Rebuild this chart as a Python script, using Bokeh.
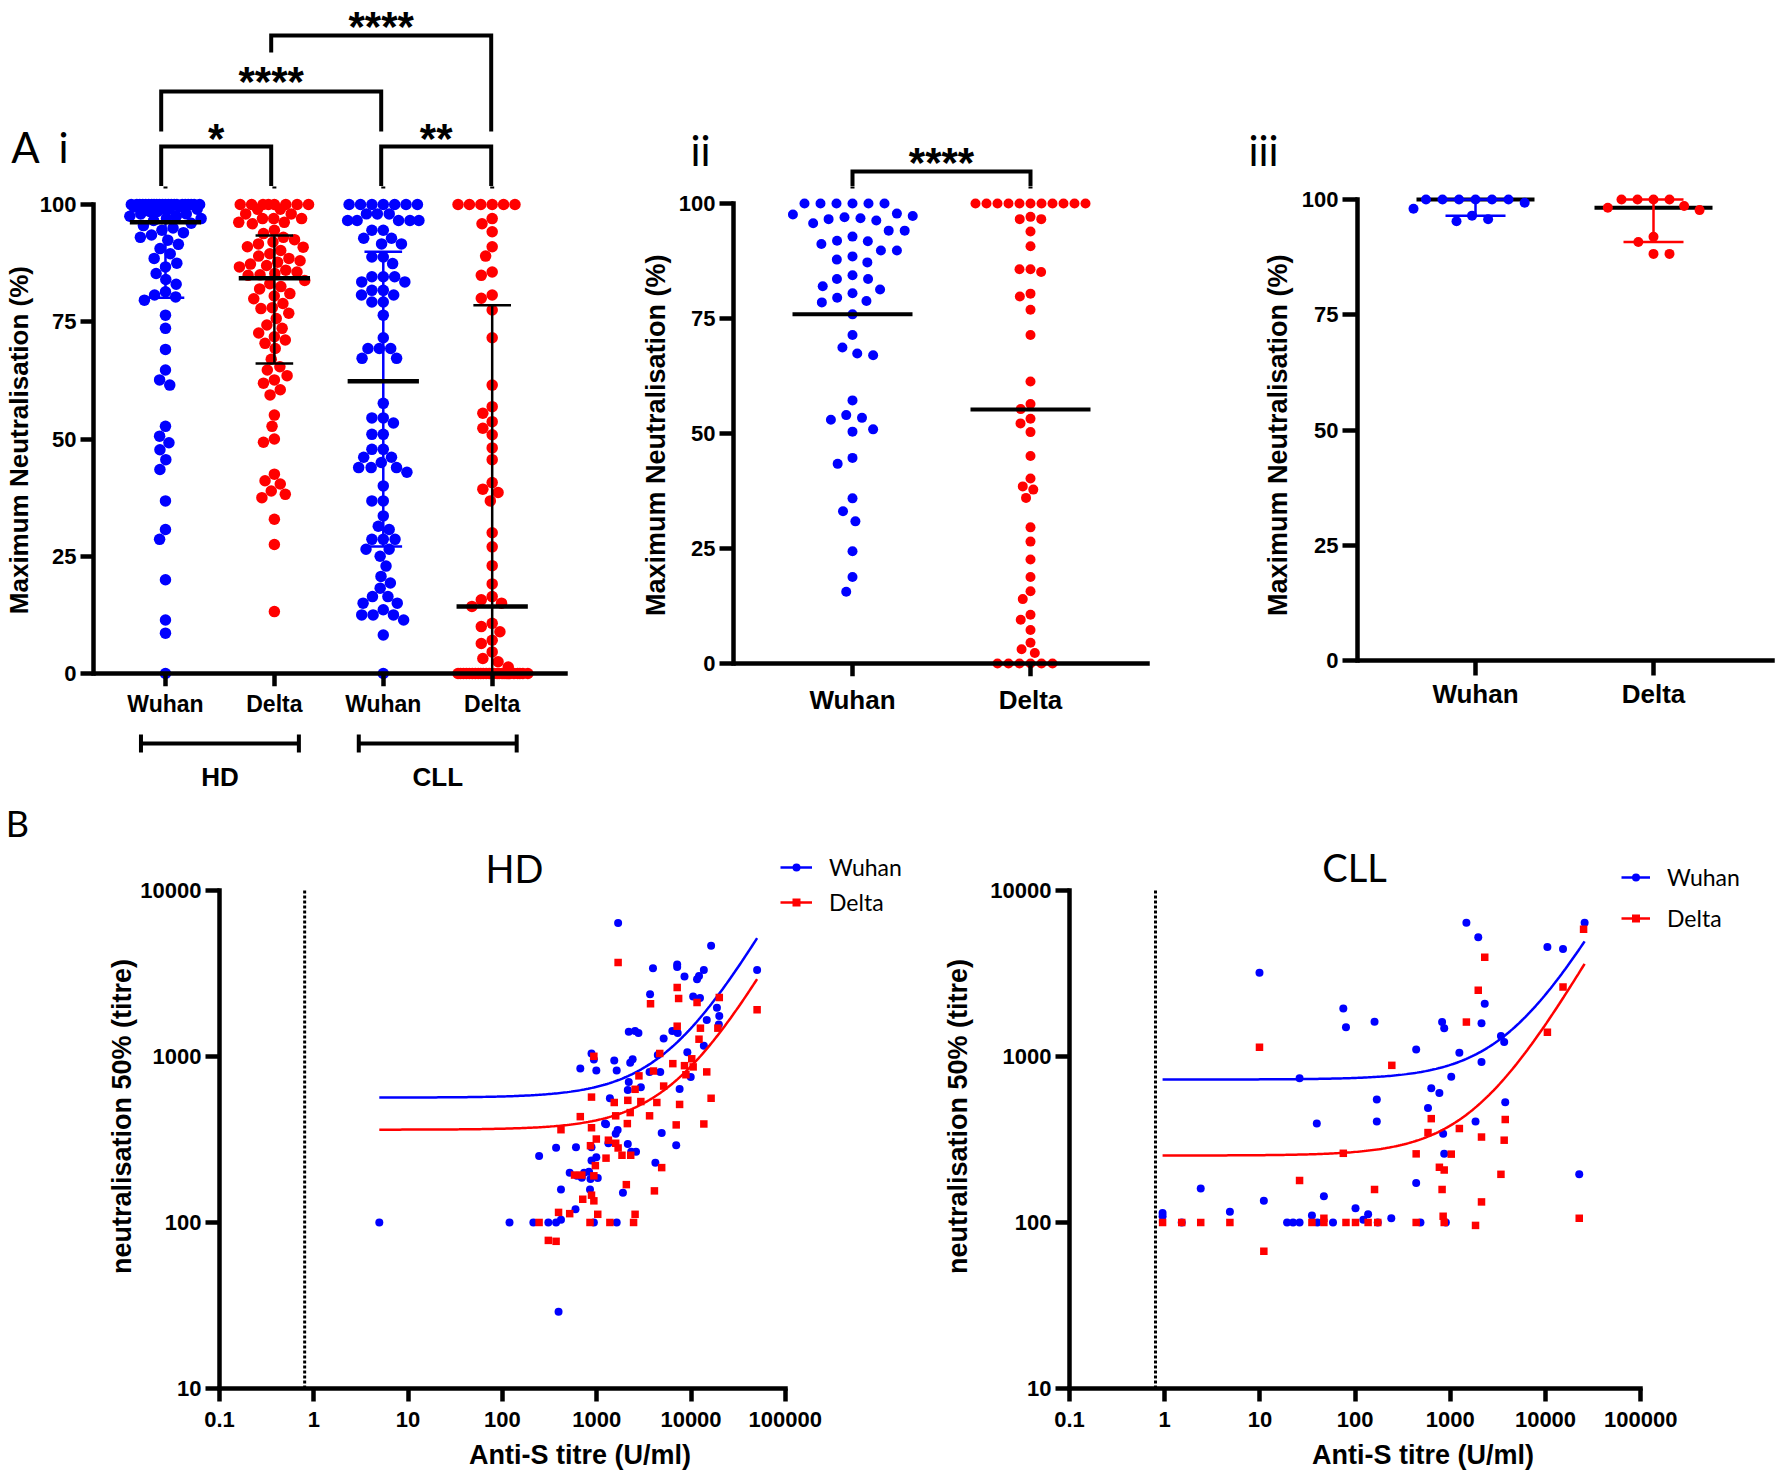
import math
import numpy as np
from bokeh.plotting import figure
from bokeh.layouts import row, column
from bokeh.models import Range1d, FixedTicker, Legend, LegendItem, PrintfTickFormatter, LinearAxis
from bokeh.core.properties import value
from bokeh.embed import file_html
from bokeh.resources import INLINE

# ======================= DATA =======================
ai_categories = ["Wuhan", "Delta", "Wuhan", "Delta"]
ai_groups = ["HD", "CLL"]
ai_group_members = [(0, 1), (2, 3)]
ai_hd_wuhan = [100, 100, 100, 100, 100, 100, 100, 100, 100, 100, 100, 100, 100, 100, 100, 100, 100, 100, 100, 100, 100, 100,
               99.5, 99.5, 99.0, 99.0, 99.0, 98.5, 98.5, 98.0, 98.0, 97.5, 97.5, 97.0, 97.0, 96.6,
               96.0, 95.5, 95.0, 94.5, 94.0, 93.5, 93.0, 92.4, 91.5, 90.6, 89.5, 88.5, 87.5, 86.7, 85.3, 84.0, 83.0, 81.4, 80.7, 80.3,
               79.6, 76.4, 73.6, 69.1, 64.7, 62.6, 61.5, 52.7, 50.6, 49.2, 47.7, 45.6, 43.5, 36.8, 30.7, 28.6, 20.0, 11.4, 8.6, 0.0]
ai_hd_delta = [100, 100, 100, 100, 100, 100, 100, 100,
               99, 99, 98, 98, 97, 97, 97, 96.2, 96.2, 95.9, 94.5, 93.8,
               93, 92.5, 92, 91.6, 91, 90.9, 90.2, 89.5, 89, 88.5, 88, 87.7, 87.3, 87, 86.7, 86, 85.6, 85.3, 85, 84.9,
               83.8, 83.1, 82.5, 82, 81, 80.5, 79.9, 78.9, 78, 77.8, 76.8, 75.7, 74.3, 73.6, 72.6, 71.8, 71.1, 70.4, 69.3, 67,
               65.4, 64.7, 63.5, 62.6, 61.9, 60.5, 59.4, 55.1, 52.7, 50, 49.3, 42.5, 41.1, 40.4, 38.9, 38.2, 37.5, 32.9, 27.5, 13.2]
ai_cll_wuhan = [100, 100, 100, 100, 100, 100, 100, 98, 98, 98, 96.6, 96.6, 96.6, 96.6, 96.6, 94.5, 94.5, 92.8, 92.8, 91.6, 91.6,
                88.8, 88.8, 87.4, 84.6, 84.6, 84.6, 83.5, 83.5, 81.7, 81.7, 80.7, 80.7, 79.2, 79.2, 76.4, 71.6, 69.3, 69.3, 69.3, 67.2, 67.2,
                57.6, 54.5, 54.5, 53.4, 51, 51, 47.8, 47.8, 46.1, 46.1, 45, 43.9, 43.9, 43.9, 42.9, 40, 36.8, 36.8, 33.6, 31.4, 30.7, 28.6, 28.6, 28.6,
                26.5, 26.5, 25, 22.9, 20.7, 19.3, 18.2, 16.4, 16.4, 15, 15, 13.6, 12.5, 12.5, 12.5, 11.4, 8.2, 0]
ai_cll_delta = [100, 100, 100, 100, 100, 100, 97, 95.9, 94.2, 91, 89, 85.6, 84.9, 80.7, 80, 77.5, 71.6, 61.5, 56.9, 55.5, 53.7,
                52.3, 50.9, 48.1, 45.6, 40.7, 39.3, 38.6, 36.8, 30, 27, 23, 19.1, 16.4, 15.7, 15,
                14.3, 10.7, 10, 8.9, 7.1, 6.4, 4.6, 3.2, 2.5, 1.4,
                0, 0, 0, 0, 0, 0, 0, 0, 0, 0, 0, 0, 0, 0, 0, 0, 0, 0, 0, 0, 0, 0, 0, 0, 0, 0]
ai_median = [96.2, 84.3, 62.3, 14.3]
ai_q1 = [80.1, 66.1, 27.1, 0.0]
ai_q3 = [100.0, 93.4, 89.9, 78.5]
ai_pairs = [(0, 1), (2, 3), (0, 2), (1, 3)]
ai_significance = ["*", "**", "****", "****"]

ii_categories = ["Wuhan", "Delta"]
ii_wuhan = [100, 100, 100, 100, 100, 100, 96.6, 97.8, 97.3, 97.6, 97.0, 96.8, 96.3, 95.7, 94.1, 94.1, 92.8, 91.9, 91.8, 91.2,
            89.8, 89.8, 88.5, 87.8, 87.2, 84.4, 83.6, 83.6, 82.0, 81.3, 80.5, 79.5, 78.8, 78.5, 75.9, 71.4, 68.7, 67.4, 67.0,
            57.2, 54.0, 53.4, 53.0, 50.9, 50.4, 44.7, 43.4, 35.9, 33.1, 30.9, 24.4, 18.8, 15.6]
ii_delta = [100, 100, 100, 100, 100, 100, 100, 100, 100, 100, 100, 97.1, 96.6, 96.6, 93.9, 90.7, 85.7, 85.7, 85.1, 80.4, 79.8,
            76.9, 71.4, 61.3, 56.4, 55.3, 53.2, 52.2, 50.3, 45.1, 40.2, 38.5, 37.8, 36.0, 29.6, 26.5, 22.6, 18.8, 15.7, 14.0,
            10.6, 9.5, 7.3, 4.5, 3.1, 2.3, 0, 0, 0, 0, 0, 0]
ii_mean = [75.9, 55.2]
ii_significance = "****"

iii_categories = ["Wuhan", "Delta"]
iii_wuhan = [100, 100, 100, 100, 100, 100, 99.3, 98.0, 96.5, 95.7, 95.3]
iii_delta = [100, 100, 100, 100, 98.6, 98.2, 97.7, 91.9, 90.8, 88.2, 88.2]
iii_median = [100.0, 98.2]
iii_q1 = [96.5, 90.8]
iii_q3 = [100.0, 100.0]

pct_ticks = [0, 25, 50, 75, 100]

series_names = ["Wuhan", "Delta"]
hd_wuhan_x = [1687, 16340, 3952, 7138, 7138, 13680, 8529, 11590, 12160, 50230, 3680, 10540, 12450, 18830, 19950, 14690, 19730,
              2188, 2553, 2772, 6339, 7223, 5129, 13680, 4446, 9143, 881, 933, 670, 991, 1535, 1629, 2405, 2266, 3636, 4719,
              2188, 2938, 2137, 7570, 9935, 1380, 1225, 1256, 1667, 1590, 4888, 1331, 2137, 371, 603, 881, 6968, 245, 991, 881,
              2322, 2612, 4190, 517, 736, 829, 617, 695, 859, 1026, 418, 849, 1898, 596, 4.95, 119, 213, 307, 371, 418, 933, 1629, 394]
hd_wuhan_y = [6365, 4637, 3397, 3574, 3455, 3322, 3032, 2915, 3051, 3322, 2366, 2299, 2249, 1963, 1753, 1656, 1556,
              1407, 1423, 1383, 1423, 1383, 1284, 1161, 1019, 1060, 1042, 958, 845, 822, 946, 822, 963, 915, 807, 807,
              702, 652, 627, 637, 751, 560, 394, 390, 360, 342, 346, 300, 297, 282, 284, 284, 292, 251, 247, 236,
              267, 267, 229, 199, 199, 202, 191, 186, 183, 185, 158, 158, 151, 120, 100, 100, 100, 100, 100, 104, 100, 100, 29]
hd_delta_x = [1687, 7138, 7394, 3722, 11590, 19950, 12590, 7138, 12160, 19270, 4662, 10180, 6414, 933, 8529, 10540, 3999,
              14690, 8831, 2805, 2553, 5129, 881, 1535, 2137, 2938, 4342, 7570, 16340, 670, 1590, 3636, 2266, 418, 881, 2113,
              6968, 13680, 991, 1331, 859, 1590, 1687, 1256, 1854, 2294, 4888, 968, 582, 695, 933, 2062, 711, 881, 933, 4093,
              394, 517, 1026, 2553, 245, 849, 1380, 2461, 307, 371, 50230]
hd_delta_y = [3676, 2604, 2235, 2077, 2113, 2261, 1480, 1521, 1270, 1480, 1042, 968, 905, 1002, 880, 865, 817,
              807, 776, 764, 634, 663, 569, 528, 544, 535, 528, 514, 560, 434, 439, 439, 459, 362, 372, 394,
              387, 392, 318, 313, 290, 300, 281, 244, 254, 254, 214, 220, 193, 193, 191, 169, 138, 146, 135, 155,
              115, 113, 112, 112, 100, 100, 100, 100, 78, 77, 1908]
cll_wuhan_x = [1476, 1966, 25760, 10470, 15280, 9.9, 2300, 75.2, 160, 820, 80.2, 863, 2127, 3404, 3681, 438, 1245, 2127,
               26.1, 1023, 631, 768, 169, 3776, 583, 39.6, 169, 1841, 841, 863, 438, 22610, 2.39, 47.0, 11.0, 101, 0.95, 0.95,
               4.84, 35.2, 137, 122, 240, 1.51, 19.3, 22.3, 26.1, 40.2, 58.6, 173, 486, 898]
cll_wuhan_y = [6397, 5220, 6397, 4558, 4430, 3193, 2077, 1941, 1620, 1611, 1497, 1480, 1585, 1328, 1221, 1103, 1054, 926,
               738, 755, 644, 603, 550, 529, 489, 394, 405, 405, 342, 259, 173, 195, 160, 144, 135, 122, 114, 109,
               116, 110, 112, 104, 106, 100, 100, 100, 100, 100, 100, 100, 100, 100]
cll_delta_x = [25120, 2300, 1966, 15280, 1476, 10470, 9.9, 243, 631, 3776, 583, 1245, 2127, 3681, 75.2, 438, 1023, 768, 863,
               3404, 26.1, 160, 820, 2127, 47.0, 22610, 0.95, 1.51, 2.39, 4.84, 35.2, 47.0, 80.2, 101, 137, 173, 438, 841,
               863, 1841, 11.0]
cll_delta_y = [5845, 3958, 2503, 2618, 1611, 1399, 1135, 884, 422, 417, 348, 368, 327, 313, 261, 259, 258, 215, 207,
               195, 179, 158, 158, 133, 106, 106, 100, 100, 100, 100, 100, 100, 100, 100, 100, 100, 100, 109,
               100, 96, 67]
hd_fit_intercept = [565, 362]
hd_fit_slope = [0.0915, 0.051]
cll_fit_intercept = [726, 253]
cll_fit_slope = [0.1633, 0.1305]
assay_cutoff = 0.8
titre_x_ticks = [0.1, 1, 10, 100, 1000, 10000, 100000]
titre_y_ticks = [10, 100, 1000, 10000]

# ======================= STYLE / HELPERS =======================
S = 1.0
def P(v): return int(round(v * S))
def F(v): return f"{v * S:.1f}px"
def W(v): return v * S

BLUE, RED, BLACK = "#0000ff", "#ff0000", "#000000"
AXFONT, SOFT = "Liberation Sans", "Lato"


def swarm(vals, ppu, d, maxw):
    n = len(vals)
    order = sorted(range(n), key=lambda i: (-vals[i], i))
    placed, offs = [], [0.0] * n
    for i in order:
        y = vals[i] * ppu
        near = [(py, px) for (py, px) in placed if abs(py - y) < d]
        cands = [0.0]
        for py, px in near:
            dx = math.sqrt(max(d * d - (py - y) ** 2, 0.0))
            cands += [px - dx, px + dx]
        def ok(x):
            return all((x - px) ** 2 + (y - py) ** 2 >= d * d - 1e-6 for py, px in near)
        valid = [c for c in cands if abs(c) <= maxw + 1e-9 and ok(c)]
        if valid:
            x = min(valid, key=lambda c: (round(abs(c), 6), c))
        else:
            best = None
            for g in np.linspace(-maxw, maxw, int(2 * maxw) + 1):
                m = min(math.hypot(g - px, y - py) for py, px in near)
                key = (-round(m, 6), abs(g))
                if best is None or key < best[0]:
                    best = (key, g)
            x = float(best[1])
        placed.append((y, x))
        offs[i] = x
    return offs


def base_fig(w, h, xr, yr, left=0, right=0, top=0, bottom=0, xtype="linear", ytype="linear", xloc=None, yloc=None):
    p = figure(width=P(w), height=P(h), x_range=xr, y_range=yr, x_axis_type=xtype, y_axis_type=ytype,
               x_axis_location=xloc, y_axis_location=yloc, output_backend="svg", toolbar_location=None,
               min_border_left=P(left), min_border_right=P(right), min_border_top=P(top), min_border_bottom=P(bottom))
    p.outline_line_color = None
    p.xgrid.visible = False
    p.ygrid.visible = False
    p.background_fill_color = "white"
    p.border_fill_color = "white"
    return p


def style_axis(ax, tick_font, tick_out, tick_standoff, label=None, label_font=None, label_standoff=0, lw=4.5):
    ax.axis_line_width = W(lw)
    ax.axis_line_color = BLACK
    ax.axis_line_cap = "square"
    ax.major_tick_line_width = W(lw)
    ax.major_tick_line_color = BLACK
    ax.major_tick_in = 0
    ax.major_tick_out = P(tick_out)
    ax.minor_tick_line_color = None
    ax.major_label_text_font = AXFONT
    ax.major_label_text_font_style = "bold"
    ax.major_label_text_font_size = F(tick_font)
    ax.major_label_text_color = BLACK
    ax.major_label_standoff = P(tick_standoff)
    if label:
        ax.axis_label = label
        ax.axis_label_text_font = AXFONT
        ax.axis_label_text_font_style = "bold"
        ax.axis_label_text_font_size = F(label_font)
        ax.axis_label_text_color = BLACK
        ax.axis_label_standoff = P(label_standoff)


def put_text(p, xs, ys, texts, font, size, bold=False, align="center"):
    p.text(x=xs, y=ys, text=texts, text_font=value(font), text_font_size=value(F(size)),
           text_font_style="bold" if bold else "normal", text_align=align,
           text_baseline="middle", text_color=BLACK)


def category_axes(p, cats, bounds, label_font, tick_out, label_standoff):
    """category names right under the frame, and the axis line + ticks pinned at y = 0"""
    ticks = list(range(len(cats)))
    lab = p.xaxis[0]
    lab.ticker = FixedTicker(ticks=ticks)
    lab.major_label_overrides = {i: c for i, c in enumerate(cats)}
    style_axis(lab, label_font, 0, label_standoff)
    lab.axis_line_color = None
    lab.major_tick_line_color = None
    line = LinearAxis(fixed_location=0, bounds=bounds, ticker=FixedTicker(ticks=[], minor_ticks=ticks))
    line.axis_line_width = W(4.5)
    line.axis_line_color = BLACK
    line.axis_line_cap = "square"
    line.major_tick_line_color = None
    line.major_tick_in = 0
    line.major_tick_out = 0
    line.minor_tick_line_color = BLACK
    line.minor_tick_line_width = W(4.5)
    line.minor_tick_in = 0
    line.minor_tick_out = P(tick_out)
    line.major_label_standoff = 0
    p.add_layout(line, "below")


STAR_SIZE = 42
STAR_SHIFT = 0.23 * STAR_SIZE  # asterisk glyph sits above the em-box middle
Y_TITLE = "Maximum  Neutralisation (%)"
STRIP_H = 186   # strip holding panel letters and significance brackets
OVERLAP = 6     # bracket legs run past the strip edge (clipped) so both halves join
B_TOP = 844     # top of the scatter-plot row

# ======================= PANEL A i =======================
A_X0, A_STEP, A_PPU, A_Y0 = 160.7, 110.0, 4.69, 673.0
def uA(px): return (px - A_X0) / A_STEP
def vA(py): return (A_Y0 - py) / A_PPU

xrA = Range1d(uA(88), uA(590))
pA = base_fig(590, 731 - STRIP_H, xrA, Range1d(vA(686), vA(STRIP_H)),
              left=88, bottom=45, xloc="below", yloc="left")
ai_dot_colors = [BLUE, RED, BLUE, RED]
ai_bar_colors = [BLUE, BLACK, BLUE, BLACK]
for i, vals in enumerate([ai_hd_wuhan, ai_hd_delta, ai_cll_wuhan, ai_cll_delta]):
    offs = swarm(vals, A_PPU, 11.5, 36)
    pA.scatter([i + o / A_STEP for o in offs], vals, marker="circle", size=W(11.5),
               fill_color=ai_dot_colors[i], line_color=None)
idx = list(range(len(ai_categories)))
hm, hc = 36 / A_STEP, 19 / A_STEP
pA.segment(idx, ai_q1, idx, ai_q3, line_width=W(2.5), color=ai_bar_colors)
pA.segment([i - hc for i in idx], ai_q1, [i + hc for i in idx], ai_q1, line_width=W(2.5), color=ai_bar_colors)
pA.segment([i - hc for i in idx], ai_q3, [i + hc for i in idx], ai_q3, line_width=W(2.5), color=ai_bar_colors)
pA.segment([i - hm for i in idx], ai_median, [i + hm for i in idx], ai_median, line_width=W(4.5), color=BLACK)
category_axes(pA, ai_categories, (uA(88), uA(564.5)), 23, 13, 4.5)
ya = pA.yaxis[0]
ya.ticker = FixedTicker(ticks=pct_ticks)
ya.bounds = (0, 100)
style_axis(ya, 22, 13.4, 3.6, Y_TITLE, 26, 3)

bA = base_fig(590, 69, xrA, Range1d(800, 731), left=88)
for g, (i, j) in zip(ai_groups, ai_group_members):
    x0, x1 = i - 0.225, j + 0.225
    bA.segment([x0, x0, x1], [743, 734, 734], [x1, x0, x1], [743, 752, 752], line_width=W(4), color=BLACK)
    put_text(bA, [(i + j) / 2], [776], [g], AXFONT, 26, bold=True)

# ======================= PANEL A ii =======================
B_X0, B_STEP, B_PPU, B_Y0 = 852.0, 178.0, 4.6, 663.0
def uii(px): return (px - B_X0) / B_STEP
def vii(py): return (B_Y0 - py) / B_PPU

p2 = base_fig(570, 800 - STRIP_H, Range1d(uii(733), uii(1160)), Range1d(vii(676), vii(STRIP_H)),
              left=143, bottom=124, xloc="below", yloc="left")
for i, (vals, col, d) in enumerate([(ii_wuhan, BLUE, 16.0), (ii_delta, RED, 11.0)]):
    offs = swarm(vals, B_PPU, d, 62)
    p2.scatter([i + o / B_STEP for o in offs], vals, marker="circle", size=W(10), fill_color=col, line_color=None)
hm2 = 60 / B_STEP
p2.segment([i - hm2 for i in range(2)], ii_mean, [i + hm2 for i in range(2)], ii_mean, line_width=W(4), color=BLACK)
category_axes(p2, ii_categories, (uii(733), uii(1147)), 26, 13, 8)
ya = p2.yaxis[0]
ya.ticker = FixedTicker(ticks=pct_ticks)
ya.bounds = (0, 100)
style_axis(ya, 22, 14, 4, Y_TITLE, 27, 5)

# ======================= PANEL A iii =======================
C_X0, C_STEP, C_PPU, C_Y0 = 1475.0, 178.0, 4.61, 660.0
def uiii(px): return (px - C_X0) / C_STEP
def viii(py): return (C_Y0 - py) / C_PPU

p3 = base_fig(616, 800 - STRIP_H, Range1d(uiii(1357), uiii(1776)), Range1d(viii(676), viii(STRIP_H)),
              left=197, bottom=124, xloc="below", yloc="left")
hm3, hc3 = 59 / C_STEP, 30 / C_STEP
iii_bar_colors = [BLUE, RED]
p3.segment([i - hm3 for i in range(2)], iii_median, [i + hm3 for i in range(2)], iii_median, line_width=W(4), color=BLACK)
p3.segment([0, 1], iii_q1, [0, 1], iii_q3, line_width=W(2.5), color=iii_bar_colors)
p3.segment([i - hc3 for i in range(2)], iii_q1, [i + hc3 for i in range(2)], iii_q1, line_width=W(2.5), color=iii_bar_colors)
p3.segment([i - hc3 for i in range(2)], iii_q3, [i + hc3 for i in range(2)], iii_q3, line_width=W(2.5), color=iii_bar_colors)
for i, (vals, col, d) in enumerate([(iii_wuhan, BLUE, 16.5), (iii_delta, RED, 16.0)]):
    offs = swarm(vals, C_PPU, d, 62)
    p3.scatter([i + o / C_STEP for o in offs], vals, marker="circle", size=W(10), fill_color=col, line_color=None)
category_axes(p3, iii_categories, (uiii(1357), uiii(1772)), 26, 15, 2)
ya = p3.yaxis[0]
ya.ticker = FixedTicker(ticks=pct_ticks)
ya.bounds = (0, 100)
style_axis(ya, 22, 15, 4, Y_TITLE, 27, 6)

# ======================= TOP STRIP (panel letters + significance brackets) =======================
tS = base_fig(1776, STRIP_H, Range1d(0, 1776), Range1d(STRIP_H, 0))
def a_px(i): return A_X0 + A_STEP * i
def ii_px(i): return B_X0 + B_STEP * i
def strip_end(y): return STRIP_H + OVERLAP if y > STRIP_H else y
bracket_geom = [(146, 188, 188, 128), (146, 188, 188, 128), (91, 131, 131, 71), (35, 52, 131, 16)]
for (i, j), sig, (bar, li, lj, ty) in zip(ai_pairs, ai_significance, bracket_geom):
    tS.multi_line([[a_px(i), a_px(i), a_px(j), a_px(j)]], [[strip_end(li), bar, bar, strip_end(lj)]],
                  line_width=W(4), color=BLACK, line_join="miter")
    put_text(tS, [(a_px(i) + a_px(j)) / 2], [ty + STAR_SHIFT], [sig], AXFONT, STAR_SIZE, bold=True)
    # leg ends that reach below the strip continue inside the panel
    for k, leg_end in ((i, li), (j, lj)):
        if leg_end > STRIP_H:
            pA.segment([k], [vA(leg_end)], [k], [vA(STRIP_H - OVERLAP)], line_width=W(4), color=BLACK)
tS.multi_line([[ii_px(0), ii_px(0), ii_px(1), ii_px(1)]], [[STRIP_H + OVERLAP, 171, 171, STRIP_H + OVERLAP]],
              line_width=W(4), color=BLACK, line_join="miter")
p2.segment([0, 1], [vii(188), vii(188)], [0, 1], [vii(STRIP_H - OVERLAP), vii(STRIP_H - OVERLAP)],
           line_width=W(4), color=BLACK)
put_text(tS, [(ii_px(0) + ii_px(1)) / 2], [152 + STAR_SHIFT], [ii_significance], AXFONT, STAR_SIZE, bold=True)
put_text(tS, [25, 63, 700, 1263], [146, 146, 149, 149], ["A", "i", "ii", "iii"], SOFT, 42)

# ======================= PANEL B =======================
sB = base_fig(1776, B_TOP - 800, Range1d(0, 1776), Range1d(B_TOP, 800))
put_text(sB, [17], [822], ["B"], SOFT, 36)

def ly(py): return 10 ** (4 - (py - 890) / 166.33)


def scatter_panel(w, axis_px, decade_px, left, ytitle_standoff, title, wx, wy, dx, dy, icpt, slope,
                  title_px, leg_x, leg_first, leg_pitch, leg_glyph_w):
    def lx(px): return 10 ** (-1 + (px - axis_px) / decade_px)
    p = base_fig(w, 1472 - B_TOP, Range1d(0.1, lx(axis_px - left + w)), Range1d(10, ly(B_TOP)),
                 left=left, bottom=83, xtype="log", ytype="log", xloc="below", yloc="left")
    p.segment([assay_cutoff], [titre_y_ticks[0]], [assay_cutoff], [titre_y_ticks[-1]],
              line_width=W(3), line_dash="3 2", color=BLACK)
    xmin = min(min(wx), min(dx))
    xmax = max(max(wx), max(dx))
    xs = np.logspace(math.log10(xmin), math.log10(xmax), 200)
    rends = []
    for k, (xx, yy, col, mk, sz) in enumerate([(wx, wy, BLUE, "circle", 8), (dx, dy, RED, "square", 7.5)]):
        ln = p.line(xs, icpt[k] + slope[k] * xs, line_width=W(2.5), color=col)
        sc = p.scatter(xx, yy, marker=mk, size=W(sz), fill_color=col, line_color=None)
        rends.append((ln, sc))
    xa = p.xaxis[0]
    xa.ticker = FixedTicker(ticks=titre_x_ticks)
    xa.formatter = PrintfTickFormatter(format="%g")
    xa.bounds = (titre_x_ticks[0], titre_x_ticks[-1])
    style_axis(xa, 22, 13, 10, "Anti-S titre (U/ml)", 27, 10)
    ya = p.yaxis[0]
    ya.ticker = FixedTicker(ticks=titre_y_ticks)
    ya.formatter = PrintfTickFormatter(format="%g")
    ya.bounds = (titre_y_ticks[0], titre_y_ticks[-1])
    style_axis(ya, 22, 14, 4.5, "neutralisation 50% (titre)", 27, ytitle_standoff)
    put_text(p, [lx(title_px[0])], [ly(title_px[1])], [title], SOFT, 38)
    items = [LegendItem(label=series_names[k], renderers=list(rends[k])) for k in range(2)]
    item_h = 28
    leg_bottom = leg_first + leg_pitch + item_h / 2
    leg = Legend(items=items, location=(P(leg_x - axis_px), P(1389 - leg_bottom)), orientation="vertical")
    leg.border_line_color = None
    leg.background_fill_alpha = 0
    leg.padding = 0
    leg.margin = 0
    leg.spacing = P(leg_pitch - item_h)
    leg.glyph_width = P(leg_glyph_w)
    leg.glyph_height = P(20)
    leg.label_height = P(20)
    leg.label_standoff = P(17)
    leg.label_text_font = SOFT
    leg.label_text_font_size = F(23)
    leg.label_text_color = BLACK
    p.add_layout(leg)
    return p


pH = scatter_panel(940, 219, 94.3, 219, 0, "HD", hd_wuhan_x, hd_wuhan_y, hd_delta_x, hd_delta_y,
                   hd_fit_intercept, hd_fit_slope, (514, 868), 780, 868, 35, 32)
pC = scatter_panel(836, 1069, 95.2, 129, 14, "CLL", cll_wuhan_x, cll_wuhan_y, cll_delta_x, cll_delta_y,
                   cll_fit_intercept, cll_fit_slope, (1354, 867), 1621, 878, 41, 29)

# ======================= LAYOUT =======================
colA = column(pA, bA, spacing=0)
mid = row(colA, p2, p3, spacing=0)
bottom = row(pH, pC, spacing=0)
layout = column(tS, mid, sB, bottom, spacing=0)

open("out.html", "w").write(file_html(layout, INLINE, title="Neutralisation"))
